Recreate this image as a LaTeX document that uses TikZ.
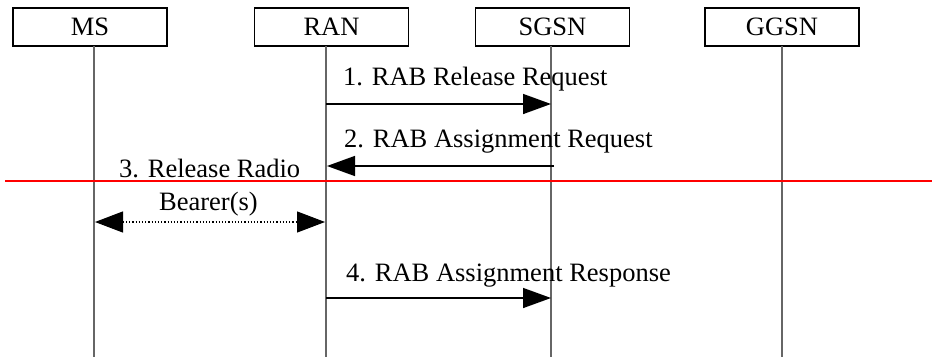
\documentclass[tikz,border=0pt]{standalone}
\usepackage{fontspec}
\setmainfont{Liberation Serif}
\usetikzlibrary{arrows.meta}
\tikzset{
  box/.style={draw=black, line width=1.4pt, minimum width=154pt, minimum height=38pt, inner sep=0pt, font=\fontsize{26.5}{30}\selectfont},
  lifeline/.style={draw=black!60, line width=1.1pt},
  msg/.style={draw=black, line width=1.5pt, -{Triangle[length=28pt,width=20pt]}},
  dotmsg/.style={draw=black, line width=1.2pt, dotted, {Triangle[length=28pt,width=21pt]}-{Triangle[length=28pt,width=21pt]}},
  lbl/.style={anchor=base west, inner sep=0pt, font=\fontsize{26.5}{30}\selectfont},
  sep/.style={draw=red, line width=1.5pt}
}
\begin{document}
\begin{tikzpicture}[x=1pt,y=-1pt]
\useasboundingbox (0,0) rectangle (932,359);
% entity boxes
\node[box] (ms) at (90,27) {MS};
\node[box] (ran) at (331.5,27) {RAN};
\node[box] (sgsn) at (552.5,27) {SGSN};
\node[box] (ggsn) at (782,27) {GGSN};
% lifeline coordinates
\coordinate (msT) at (94,46);   \coordinate (msB) at (94,357);
\coordinate (ranT) at (326,46); \coordinate (ranB) at (326,357);
\coordinate (sgT) at (551,46);  \coordinate (sgB) at (551,357);
\coordinate (ggT) at (782,46);  \coordinate (ggB) at (782,357);
\draw[lifeline] (msT) -- (msB);
\draw[lifeline] (ranT) -- (ranB);
\draw[lifeline] (sgT) -- (sgB);
\draw[lifeline] (ggT) -- (ggB);
% message endpoints
\coordinate (m1s) at (326,104); \coordinate (m1e) at (551,104);
\coordinate (m2s) at (554,166); \coordinate (m2e) at (327,166);
\coordinate (m3s) at (95,222);  \coordinate (m3e) at (325,222);
\coordinate (m4s) at (326,298); \coordinate (m4e) at (551,298);
\coordinate (rl) at (5,181);    \coordinate (rr) at (932,181);
% messages
\draw[msg] (m1s) -- (m1e);
\node[lbl] (t1) at (343,85.5) {1. RAB Release Request};
\draw[msg] (m2s) -- (m2e);
\node[lbl] (t2) at (344,147.5) {2. RAB Assignment Request};
\draw[sep] (rl) -- (rr);
\node[lbl] (t3a) at (119,177) {3. Release Radio};
\node[lbl] (t3b) at (159,210) {Bearer(s)};
\draw[dotmsg] (m3s) -- (m3e);
\node[lbl] (t4) at (346,281.5) {4. RAB Assignment Response};
\draw[msg] (m4s) -- (m4e);
\end{tikzpicture}
\end{document}
